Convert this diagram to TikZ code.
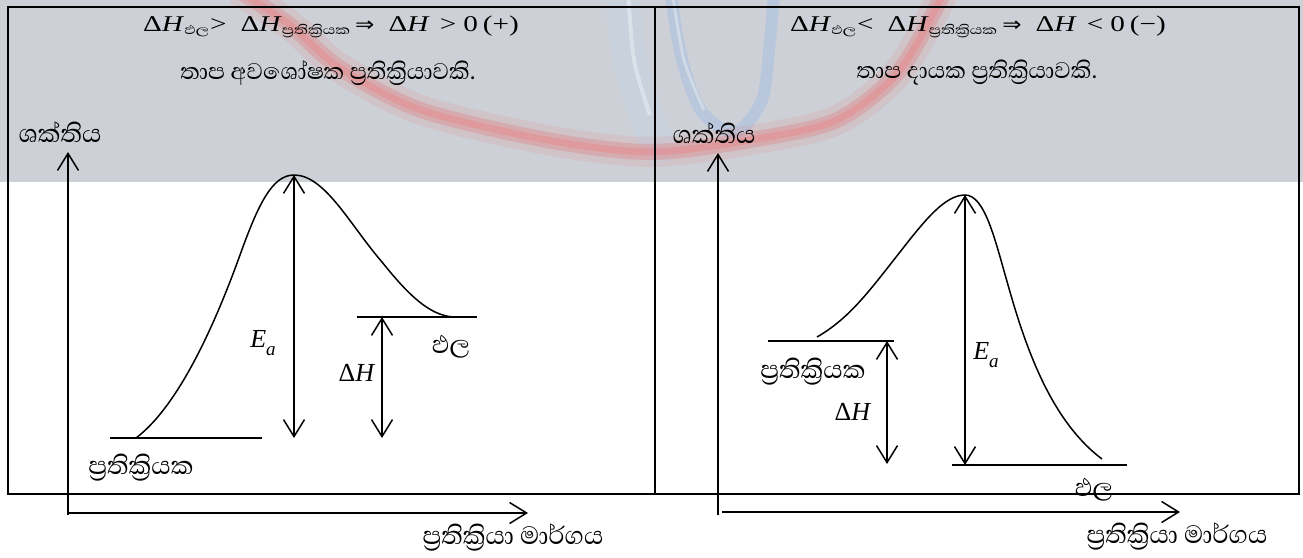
\documentclass[tikz,border=0pt]{standalone}
\usepackage{fontspec}
\setmainfont{Liberation Serif}
\newfontfamily\sinhalafont[Script=Sinhala]{Abhaya Libre}
\newfontfamily\sinhwide[Script=Sinhala,FakeStretch=1.3]{Abhaya Libre}
\newfontfamily\serifwide[FakeStretch=1.3]{Liberation Serif}
\newfontfamily\arrowwide[FakeStretch=1.15]{DejaVu Sans}
\usetikzlibrary{arrows.meta}
\definecolor{bannergray}{RGB}{205,209,215}
\definecolor{wmred}{RGB}{238,86,86}
\definecolor{wmblue}{RGB}{110,165,235}
\newcommand\dltH{Δ\textit{H}}
\newcommand\snb[1]{\raisebox{-3pt}{\sinhwide\fontsize{16}{17}\selectfont #1}}
\newcommand\Eaq{\textit{E}\raisebox{-0.3em}{\fontsize{19}{20}\selectfont\textit{a}}}
\newcommand\Rarr{{\arrowwide\fontsize{20}{22}\selectfont ⇒}}
\begin{document}
\begin{tikzpicture}[x=1pt,y=-1pt,
  every node/.style={inner sep=0pt},
  frameline/.style={line width=2pt},
  axisline/.style={line width=1.5pt,-{Straight Barb[length=17pt,width=21pt]}},
  dblarrow/.style={line width=1.5pt,{Straight Barb[length=17pt,width=21pt]}-{Straight Barb[length=17pt,width=21pt]}},
  levelline/.style={line width=1.8pt},
  curveline/.style={line width=1.5pt},
  sinlbl/.style={font=\sinhalafont\fontsize{32}{36}\selectfont},
  toptext/.style={font=\serifwide\fontsize{22.5}{27}\selectfont},
  subtext/.style={font=\sinhalafont\fontsize{29}{34}\selectfont},
  mathlbl/.style={font=\fontsize{26}{30}\selectfont}]
\useasboundingbox (0,0) rectangle (1303,557);
% banner
\fill[bannergray] (0,0) rectangle (1303,182);
\begin{scope}
\clip (0,0) rectangle (1303,182);
\draw[wmblue!50, line width=34pt, opacity=0.18] plot[smooth] coordinates {(622,-10) (630,60) (648,120) (668,160)};
\draw[white, line width=4pt, opacity=0.35] plot[smooth] coordinates {(628,-10) (634,60) (650,115)};
\draw[wmblue, line width=12pt, opacity=0.22] plot[smooth] coordinates {(670,-10) (682,60) (702,112) (735,132) (762,100) (770,40) (774,-10)};
\draw[white, line width=3pt, opacity=0.35] plot[smooth] coordinates {(672,-10) (684,60) (704,110)};
\draw[wmred, line width=30pt, opacity=0.10] plot[smooth] coordinates {(238,-10) (290,25) (340,68) (421,110) (547,140) (650,152) (750,140) (837,120) (900,70) (945,-10)};
\draw[wmred, line width=16pt, opacity=0.22] plot[smooth] coordinates {(238,-10) (290,25) (340,68) (421,110) (547,140) (650,152) (750,140) (837,120) (900,70) (945,-10)};
\draw[wmred!80, line width=7pt, opacity=0.32] plot[smooth] coordinates {(238,-10) (290,25) (340,68) (421,110) (547,140) (650,152) (750,140) (837,120) (900,70) (945,-10)};
\end{scope}
% frame
\draw[frameline] (8,7) rectangle (1299,494);
\draw[frameline] (655,7) -- (655,494);
% ---------- left panel ----------
\node[toptext] (lform) at (331,27) {\dltH\snb{ඵල}\hspace{1pt}>\hspace{14pt}\dltH\snb{ප්^^^^200dරතික්^^^^200dරියක}\hspace{5pt}\Rarr\hspace{14pt}\dltH\hspace{10pt}>\hspace{7pt}0\hspace{5pt}(+)};
\node[subtext] (lsub) at (328,73) {තාප අවශෝෂක ප්^^^^200dරතික්^^^^200dරියාවකි.};
\coordinate (LO) at (68,515);
\coordinate (LYt) at (68,152);
\coordinate (LXs) at (68,513);
\coordinate (LXt) at (528,513);
\draw[axisline] (LO) -- (LYt);
\draw[axisline] (LXs) -- (LXt);
\node[sinlbl] (lyl) at (60,132) {ශක්තිය};
\node[sinlbl] (lxl) at (513,537) {ප්^^^^200dරතික්^^^^200dරියා මාර්ගය};
\coordinate (LR1) at (110,438);
\coordinate (LR2) at (262,438);
\coordinate (LP1) at (357,317);
\coordinate (LP2) at (477,317);
\draw[levelline] (LR1) -- (LR2);
\draw[levelline] (LP1) -- (LP2);
\coordinate (LPk) at (294,175);
\coordinate (LCs) at (136,438);
\coordinate (LCe) at (453,317);
\draw[curveline] (LCs) .. controls (181,404) and (218,316) .. (240,255)
  .. controls (258,205) and (272,175) .. (LPk)
  .. controls (325,175) and (350,225) .. (382,262)
  .. controls (410,297) and (430,315) .. (LCe);
\coordinate (LEab) at (294,438);
\coordinate (LHa) at (382,317);
\coordinate (LHb) at (382,438);
\draw[dblarrow] (LPk) -- (LEab);
\draw[dblarrow] (LHa) -- (LHb);
\node[mathlbl] (lea) at (263,343) {\Eaq};
\node[mathlbl] (ldh) at (357,373) {\dltH};
\node[sinlbl] (lprod) at (451,347) {ඵල};
\node[sinlbl] (lreac) at (141,468) {ප්^^^^200dරතික්^^^^200dරියක};
% ---------- right panel ----------
\node[toptext] (rform) at (978,27) {\dltH\snb{ඵල}\hspace{1pt}<\hspace{14pt}\dltH\snb{ප්^^^^200dරතික්^^^^200dරියක}\hspace{5pt}\Rarr\hspace{14pt}\dltH\hspace{10pt}<\hspace{7pt}0\hspace{5pt}(−)};
\node[subtext] (rsub) at (977,73) {තාප දායක ප්^^^^200dරතික්^^^^200dරියාවකි.};
\coordinate (RO) at (718,515);
\coordinate (RYt) at (718,153);
\coordinate (RXs) at (722,512);
\coordinate (RXt) at (1180,512);
\draw[axisline] (RO) -- (RYt);
\draw[axisline] (RXs) -- (RXt);
\node[sinlbl] (ryl) at (714,133) {ශක්තිය};
\node[sinlbl] (rxl) at (1177,536) {ප්^^^^200dරතික්^^^^200dරියා මාර්ගය};
\coordinate (RR1) at (768,341);
\coordinate (RR2) at (894,341);
\coordinate (RP1) at (952,465);
\coordinate (RP2) at (1127,465);
\draw[levelline] (RR1) -- (RR2);
\draw[levelline] (RP1) -- (RP2);
\coordinate (RPk) at (965,195);
\coordinate (RCs) at (817,337);
\coordinate (RCe) at (1102,459);
\draw[curveline] (RCs) .. controls (850,318) and (870,290) .. (900,252)
  .. controls (925,220) and (945,195) .. (RPk)
  .. controls (985,195) and (995,240) .. (1008,285)
  .. controls (1025,345) and (1050,420) .. (RCe);
\coordinate (REab) at (965,465);
\coordinate (RHa) at (887,341);
\coordinate (RHb) at (887,464);
\draw[dblarrow] (RPk) -- (REab);
\draw[dblarrow] (RHa) -- (RHb);
\node[mathlbl] (rea) at (986,355) {\Eaq};
\node[mathlbl] (rdh) at (853,412) {\dltH};
\node[sinlbl] (rreac) at (813,372) {ප්^^^^200dරතික්^^^^200dරියක};
\node[sinlbl] (rprod) at (1094,490) {ඵල};
\end{tikzpicture}
\end{document}
